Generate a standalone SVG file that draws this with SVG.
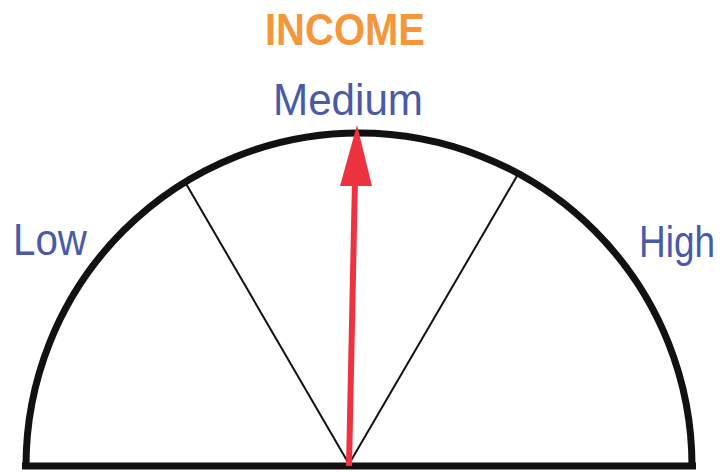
<svg xmlns="http://www.w3.org/2000/svg" width="727" height="472" viewBox="0 0 727 472">
<style>
.lbl{font-family:"Liberation Sans",Arial,sans-serif;fill:#4A5AA8;font-size:45px}
.title{font-family:"Liberation Sans",Arial,sans-serif;fill:#F5963A;font-size:45px;font-weight:bold}
.thick{fill:none;stroke:#111;stroke-width:7}
.spoke{stroke:#111;stroke-width:2}
</style>
<rect width="727" height="472" fill="#fff"/>
<g id="gauge">
<path class="thick" d="M26 466 A333 333 0 0 1 692 466"/>
<line class="thick" x1="22" y1="466" x2="696" y2="466"/>
</g>
<g id="connectors">
<line class="spoke" x1="349" y1="464" x2="185" y2="182"/>
<line class="spoke" x1="349" y1="464" x2="517" y2="176"/>
<line x1="349" y1="466" x2="355" y2="180" stroke="#EE3340" stroke-width="6"/>
<polygon points="357,125 372,186 340,186" fill="#EE3340"/>
</g>
<g id="title"><text class="title" x="265" y="45" textLength="160" lengthAdjust="spacingAndGlyphs">INCOME</text></g>
<g id="medium"><text class="lbl" x="273" y="115" textLength="150" lengthAdjust="spacingAndGlyphs">Medium</text></g>
<g id="low"><text class="lbl" x="13" y="255" textLength="74" lengthAdjust="spacingAndGlyphs">Low</text></g>
<g id="high"><text class="lbl" x="639" y="257" font-size="42" textLength="76" lengthAdjust="spacingAndGlyphs">High</text></g>
</svg>
